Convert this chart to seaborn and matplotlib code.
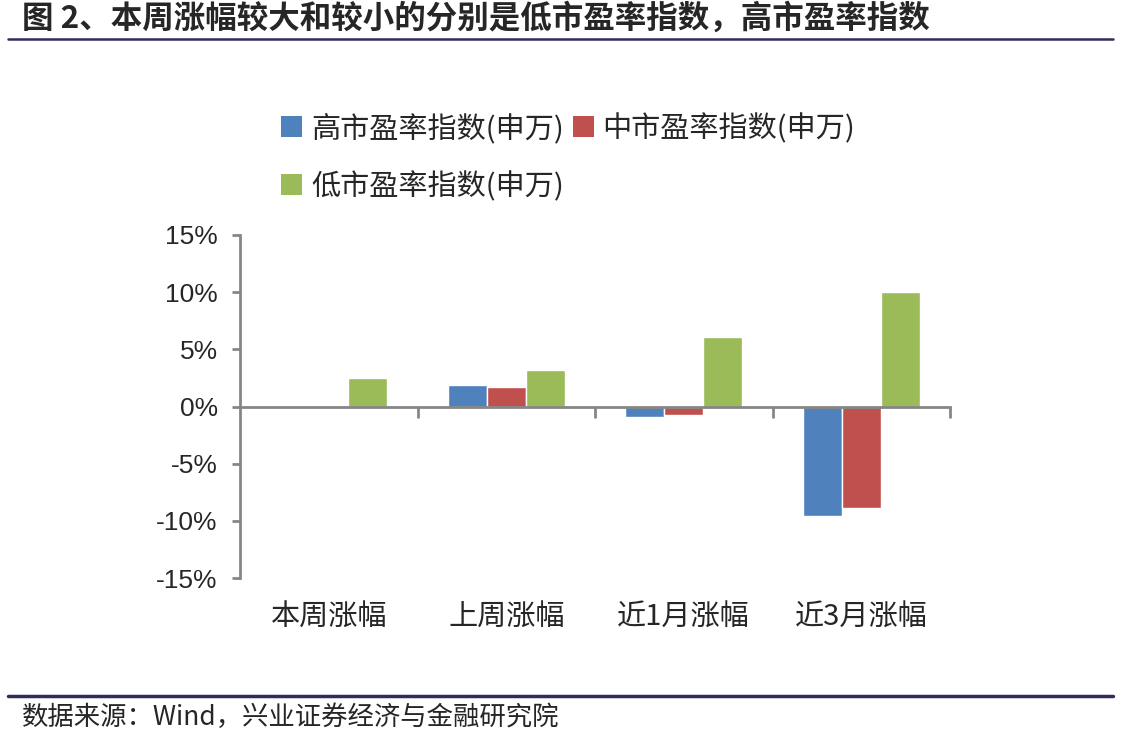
import pandas as pd
import matplotlib
matplotlib.use('Agg')
import matplotlib.pyplot as plt
import matplotlib.transforms as mtransforms
from matplotlib.patches import Patch
import seaborn as sns

# dados
categorias = ['本周涨幅', '上周涨幅', '近1月涨幅', '近3月涨幅']
series = ['高市盈率指数(申万)', '中市盈率指数(申万)', '低市盈率指数(申万)']
alto = [0.0, 1.85, -0.9, -9.6]
medio = [0.0, 1.7, -0.75, -8.85]
baixo = [2.45, 3.2, 6.1, 10.05]
cores = ['#4F81BD', '#C0504D', '#9BBB59']

titulo = '图 2、本周涨幅较大和较小的分别是低市盈率指数，高市盈率指数'
fonte = '数据来源：Wind，兴业证券经济与金融研究院'

df = pd.DataFrame({
    'categoria': categorias * 3,
    'serie': [series[0]] * 4 + [series[1]] * 4 + [series[2]] * 4,
    'valor': alto + medio + baixo,
})

sns.set_theme(style='white')
plt.rcParams['font.family'] = ['Noto Sans CJK SC', 'DejaVu Sans']

fig = plt.figure(figsize=(11.21, 7.34), dpi=100)
ax = fig.add_axes([240 / 1121, 1 - 578 / 734, 710 / 1121, 343 / 734])

sns.barplot(data=df, x='categoria', y='valor', hue='serie', order=categorias,
            hue_order=series, palette=cores, width=0.66, gap=0, ax=ax,
            legend=False, saturation=1, errorbar=None)

cinza = '#868686'
ax.set_xlim(-0.5, len(categorias) - 0.5)
ax.set_ylim(-15, 15)
ax.set_yticks(range(-15, 16, 5))
ax.set_yticklabels([f'{v}%' for v in range(-15, 16, 5)], fontsize=19,
                   family=['Liberation Sans', 'DejaVu Sans'])
ax.set_xticks([i + 0.5 for i in range(len(categorias))])
ax.set_xticklabels([])
ax.set_xlabel('')
ax.set_ylabel('')
for lado in ['top', 'right']:
    ax.spines[lado].set_visible(False)
ax.spines['bottom'].set_position(('data', 0))
for lado in ['left', 'bottom']:
    ax.spines[lado].set_color(cinza)
    ax.spines[lado].set_linewidth(2)
ax.tick_params(axis='y', left=True, direction='out', length=6, width=2, color=cinza, pad=10)
ax.tick_params(axis='x', bottom=True, direction='out', length=8, width=2, color=cinza)
ax.grid(False)

# rotulos das categorias abaixo da area do grafico
trans = mtransforms.blended_transform_factory(ax.transData, ax.transAxes)
for i, cat in enumerate(categorias):
    ax.text(i, -0.115, cat, transform=trans, ha='center', va='center', fontsize=21)

# legenda (ordem para preencher por linhas com ncol=2)
alcas = [Patch(facecolor=c, edgecolor='none') for c in cores]
ordem = [0, 2, 1]
fig.legend([alcas[i] for i in ordem], [series[i] for i in ordem], loc='upper left',
           bbox_to_anchor=(255 / 1121, 1 - 87 / 734),
           ncol=2, frameon=False, fontsize=21, handlelength=0.72, handleheight=0.72,
           handletextpad=0.3, columnspacing=0.3, labelspacing=0.95)

# titulo, linhas e fonte
fig.text(22 / 1121, 1 - 19 / 734, titulo, fontsize=22.7, fontweight='bold',
         ha='left', va='center')
fig.add_artist(plt.Line2D([8 / 1121, 1113 / 1121], [1 - 39 / 734] * 2,
                          color='#2E2D5C', linewidth=1.8))
fig.add_artist(plt.Line2D([8 / 1121, 1113 / 1121], [1 - 696 / 734] * 2,
                          color='#2E2D5C', linewidth=2.5))
fig.text(22 / 1121, 1 - 717 / 734, fonte, fontsize=19, ha='left', va='center')

fig.savefig('out.png', dpi=100)
